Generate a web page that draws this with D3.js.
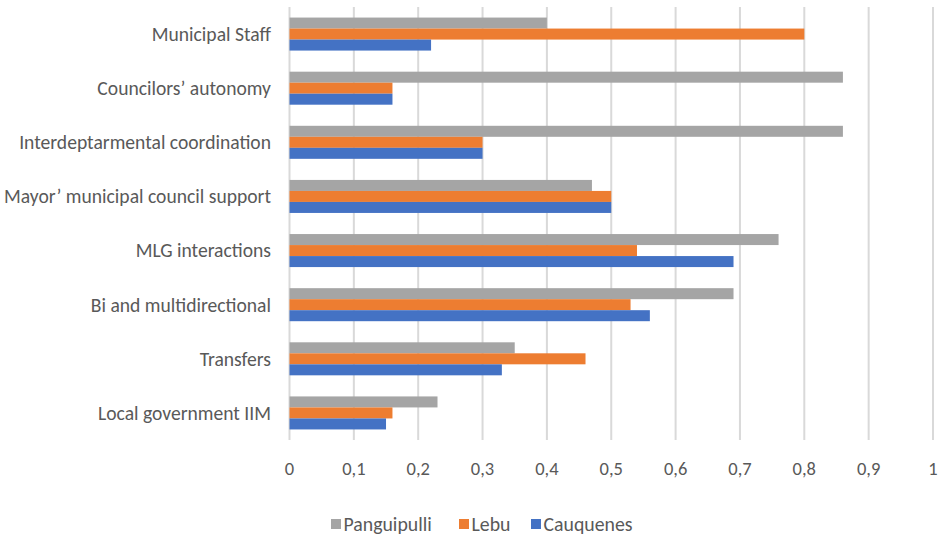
<!DOCTYPE html>
<html><head><meta charset="utf-8">
<script src="https://cdn.jsdelivr.net/npm/d3@7"></script>
<style>body{margin:0;background:#fff}</style>
</head><body>
<svg id="c" width="940" height="536"></svg>
<script>
const categories = ["Municipal Staff","Councilors’ autonomy","Interdeptarmental coordination","Mayor’ municipal council support","MLG interactions","Bi and multidirectional","Transfers","Local government IIM"];
const seriesNames = ["Panguipulli","Lebu","Cauquenes"];
const panguipulli = [0.40,0.86,0.86,0.47,0.76,0.69,0.35,0.23];
const lebu        = [0.80,0.16,0.30,0.50,0.54,0.53,0.46,0.16];
const cauquenes   = [0.22,0.16,0.30,0.50,0.69,0.56,0.33,0.15];
const ticks = [0,0.1,0.2,0.3,0.4,0.5,0.6,0.7,0.8,0.9,1];
const colors = ["#A5A5A5","#ED7D31","#4472C4"];
const seriesValues = [panguipulli, lebu, cauquenes];

const font = "Carlito, 'Liberation Sans Narrow', 'Liberation Sans', sans-serif";
const svg = d3.select("#c");
const x = d3.scaleLinear().domain([0,1]).range([289.5,933]);
const y = d3.scaleBand().domain(categories).range([7,440]).paddingInner(0.39).paddingOuter(0.195);
const inner = d3.scaleBand().domain(seriesNames).range([0,y.bandwidth()]);

// gridlines
svg.append("g").selectAll("line").data(ticks).join("line")
  .attr("x1",d=>x(d)).attr("x2",d=>x(d)).attr("y1",7).attr("y2",440)
  .attr("stroke","#D9D9D9").attr("stroke-width",2);

// bars
const g = svg.append("g");
categories.forEach((c,i)=>{
  seriesNames.forEach((s,j)=>{
    g.append("rect").attr("x",x(0)).attr("y",y(c)+inner(s))
      .attr("width",x(seriesValues[j][i])-x(0)).attr("height",inner.bandwidth())
      .attr("fill",colors[j]);
  });
});

// x axis labels
const fmt = d=> String(d).replace(".",",");
svg.append("g").selectAll("text").data(ticks).join("text")
  .attr("x",d=>x(d)).attr("y",475).attr("text-anchor","middle")
  .attr("font-family",font).attr("font-size",18.5).attr("fill","#595959")
  .text(fmt);

// category labels
svg.append("g").selectAll("text").data(categories).join("text")
  .attr("x",271).attr("y",d=>y(d)+y.bandwidth()/2).attr("dy","0.35em")
  .attr("text-anchor","end").attr("font-family",font).attr("font-size",19.6).attr("fill","#595959")
  .text(d=>d);

// legend
const legX = [331,459,531];
const lg = svg.append("g");
seriesNames.forEach((s,j)=>{
  lg.append("rect").attr("x",legX[j]).attr("y",519).attr("width",10).attr("height",10).attr("fill",colors[j]);
  lg.append("text").attr("x",legX[j]+12.5).attr("y",531).attr("font-family",font).attr("font-size",19.8)
    .attr("fill","#595959").text(s);
});
</script>
</body></html>
